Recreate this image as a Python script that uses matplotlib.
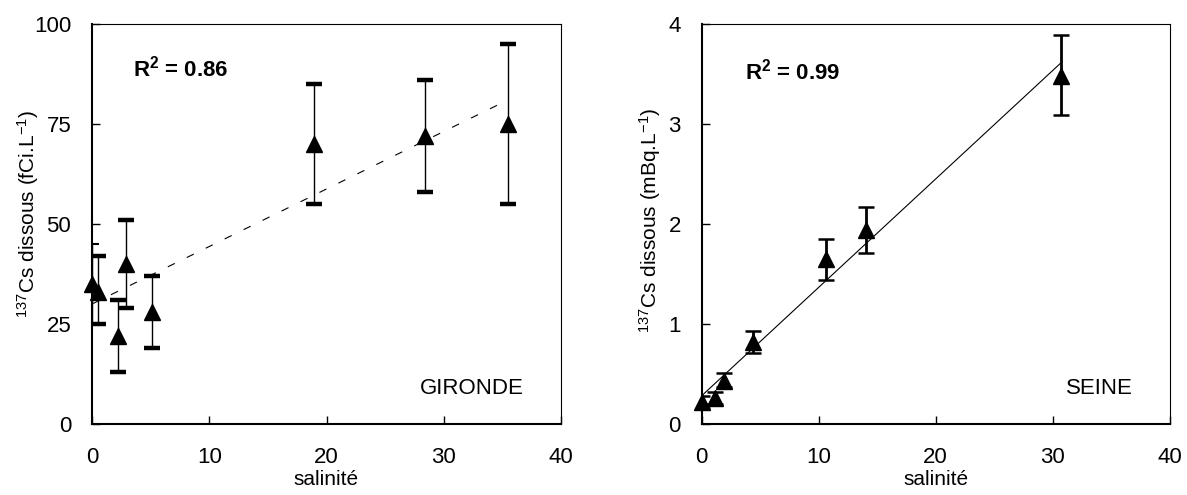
import numpy as np
import matplotlib
matplotlib.use("Agg")
import matplotlib.pyplot as plt

plt.rcParams['font.family'] = ['Liberation Sans', 'DejaVu Sans']
plt.rcParams['mathtext.fontset'] = 'custom'
plt.rcParams['mathtext.rm'] = 'Liberation Sans'
plt.rcParams['mathtext.it'] = 'Liberation Sans:italic'
plt.rcParams['mathtext.bf'] = 'Liberation Sans:bold'

# Gironde (fCi/L)
gironde_sal = [0.0, 0.5, 2.2, 2.9, 5.1, 18.9, 28.4, 35.5]
gironde_cs = [35, 33, 22, 40, 28, 70, 72, 75]
gironde_lo = [25, 25, 13, 29, 19, 55, 58, 55]
gironde_hi = [45, 42, 31, 51, 37, 85, 86, 95]

# Seine (mBq/L)
seine_sal = [0.0, 1.1, 1.9, 4.4, 10.6, 14.05, 30.7]
seine_cs = [0.22, 0.26, 0.43, 0.82, 1.65, 1.94, 3.48]
seine_lo = [0.16, 0.20, 0.37, 0.71, 1.44, 1.71, 3.09]
seine_hi = [0.28, 0.32, 0.51, 0.93, 1.85, 2.17, 3.89]

TXT = 16


def style_axes(ax, ymax, yticks):
	ax.set_xlim(0, 40)
	ax.set_ylim(0, ymax)
	ax.set_xticks([0, 10, 20, 30, 40])
	ax.set_yticks(yticks)
	ax.tick_params(direction="in", length=6, width=1, labelsize=TXT, pad=15)
	ax.tick_params(axis="x", pad=16)
	for side in ["left", "bottom"]:
		ax.spines[side].set_linewidth(1.5)
	for side in ["top", "right"]:
		ax.spines[side].set_linewidth(0.8)
	ax.set_xlabel("salinité", fontsize=15, labelpad=2)


def errbars(ax, x, y, lo, hi, **kw):
	x, y, lo, hi = map(np.asarray, (x, y, lo, hi))
	ax.errorbar(x, y, yerr=[y - lo, hi - y], fmt="none", ecolor="black", **kw)


fig = plt.figure(figsize=(11.87, 4.95), dpi=100)
ax1 = fig.add_axes([92 / 1187, 1 - 424.3 / 495, 469 / 1187, 400 / 495])
ax2 = fig.add_axes([701.7 / 1187, 1 - 424.3 / 495, 468 / 1187, 400 / 495])

# --- Gironde
style_axes(ax1, 100, [0, 25, 50, 75, 100])
xs = np.array(gironde_sal)
a, b = np.polyfit(xs, gironde_cs, 1)
xl = np.array([xs.min(), xs.max()])
ax1.plot(xl, a * xl + b, color="black", lw=0.8, dashes=(7, 12))
errbars(ax1, gironde_sal[:1], gironde_cs[:1], gironde_lo[:1], gironde_hi[:1],
		elinewidth=1, capsize=5, capthick=1.5)
errbars(ax1, gironde_sal[1:], gironde_cs[1:], gironde_lo[1:], gironde_hi[1:],
		elinewidth=1, capsize=6, capthick=3.2)
ax1.plot(gironde_sal, gironde_cs, "^", color="black", markersize=11, clip_on=False, zorder=5)
ax1.text(0.088, 0.889, r"$\mathbf{R^{2}}$ = 0.86", transform=ax1.transAxes,
		 fontsize=TXT, fontweight="bold", va="center", ha="left")
ax1.text(0.92, 0.09, "GIRONDE", transform=ax1.transAxes, fontsize=TXT, va="center", ha="right")
ax1.set_ylabel(r"$^{137}$Cs dissous (fCi.L$^{-1}$)", fontsize=15)
ax1.yaxis.set_label_coords(-0.108, 0.526)

# --- Seine
style_axes(ax2, 4, [0, 1, 2, 3, 4])
xs = np.array(seine_sal)
a, b = np.polyfit(xs, seine_cs, 1)
xl = np.array([xs.min(), xs.max()])
ax2.plot(xl, a * xl + b, color="black", lw=0.8)
errbars(ax2, seine_sal, seine_cs, seine_lo, seine_hi,
		elinewidth=2, capsize=5.5, capthick=1.8)
ax2.plot(seine_sal, seine_cs, "^", color="black", markersize=11, clip_on=False, zorder=5)
ax2.text(0.0925, 0.882, r"$\mathbf{R^{2}}$ = 0.99", transform=ax2.transAxes,
		 fontsize=TXT, fontweight="bold", va="center", ha="left")
ax2.text(0.921, 0.09, "SEINE", transform=ax2.transAxes, fontsize=TXT, va="center", ha="right")
ax2.set_ylabel(r"$^{137}$Cs dissous (mBq.L$^{-1}$)", fontsize=15)
ax2.yaxis.set_label_coords(-0.082, 0.511)

fig.savefig("out.png", dpi=100)
